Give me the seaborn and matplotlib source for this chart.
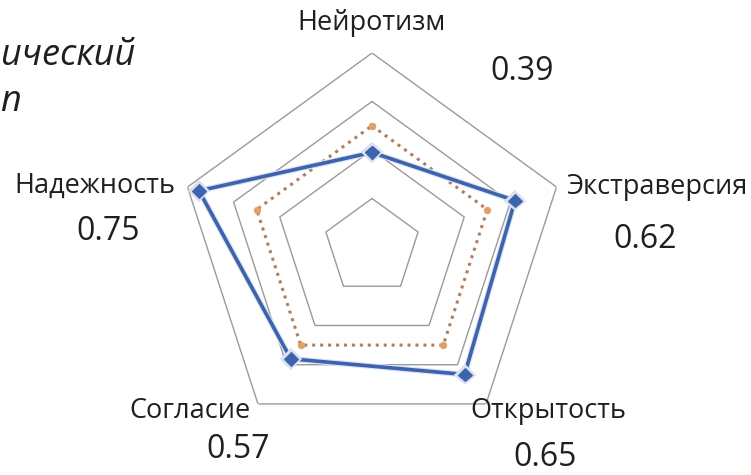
import numpy as np
import matplotlib.pyplot as plt
import matplotlib.patheffects as pe
import seaborn as sns

# chart data
traits = ["Нейротизм", "Экстраверсия", "Открытость", "Согласие", "Надежность"]
person = [0.39, 0.62, 0.65, 0.57, 0.75]
baseline = [0.5, 0.5, 0.5, 0.5, 0.5]
value_labels = ["0.39", "0.62", "0.65", "0.57", "0.75"]
ring_levels = [0.2, 0.4, 0.6, 0.8]

sns.set_style("white")
plt.rcParams['font.family'] = ['Open Sans', 'DejaVu Sans']

W, H = 751, 475
fig = plt.figure(figsize=(W / 100, H / 100), dpi=100)

# polar axes centred on the pentagon
cx, cy, R = 372, 247, 194
ax = fig.add_axes([(cx - R) / W, (H - cy - R) / H, 2 * R / W, 2 * R / H], polar=True)
ax.set_theta_zero_location("N")
ax.set_theta_direction(-1)

n = len(traits)
angles = np.linspace(0, 2 * np.pi, n, endpoint=False)
closed = np.append(angles, 2 * np.pi)

def close(vals):
    return list(vals) + [vals[0]]

# pentagon grid
for lvl in ring_levels:
    sns.lineplot(x=closed, y=[lvl] * (n + 1), ax=ax, color="#9a9a9a",
                 linewidth=1.0, sort=False, estimator=None)

# baseline (dotted orange)
sns.lineplot(x=closed, y=close(baseline), ax=ax, color="#b07e5c",
             linewidth=2.2, linestyle=(0, (1, 1.6)), sort=False, estimator=None,
             marker="o", markersize=4.5, markerfacecolor="#e0a067",
             markeredgecolor="#e0a067")

# person (solid blue with diamonds)
line_ax = sns.lineplot(x=closed, y=close(person), ax=ax, color="#3c63ab",
                       linewidth=2.6, sort=False, estimator=None,
                       marker="D", markersize=7, markeredgecolor="#3c63ab")
line_ax.lines[-1].set_path_effects([pe.Stroke(linewidth=4.2, foreground="#d8e1f2"),
                                    pe.Normal()])

ax.set_ylim(0, 0.8)
ax.grid(False)
ax.spines['polar'].set_visible(False)
ax.set_xticks([])
ax.set_yticks([])
ax.set_xlabel("")
ax.set_ylabel("")
ax.patch.set_alpha(0)

# category and value labels (pixel positions from the slide)
name_pos = [(372, 23), (657, 187), (548, 411), (190, 411), (95, 186)]
num_pos = [(522, 72), (645, 239), (545, 457), (238, 450), (108, 232)]
for name, (x, y) in zip(traits, name_pos):
    fig.text(x / W, 1 - y / H, name, ha="center", va="center",
             fontsize=19.5, color="#1f1f1f")
for lab, (x, y) in zip(value_labels, num_pos):
    fig.text(x / W, 1 - y / H, lab, ha="center", va="center",
             fontsize=23, color="#1f1f1f")

# visible part of the slide title at the left edge
fig.text(1 / W, 1 - 56 / H, "ический", ha="left", va="center",
         fontsize=26, style="italic", color="#1f1f1f")
fig.text(0, 1 - 102 / H, "п", ha="left", va="center",
         fontsize=26, style="italic", color="#1f1f1f")

fig.savefig("out.png", dpi=100)
